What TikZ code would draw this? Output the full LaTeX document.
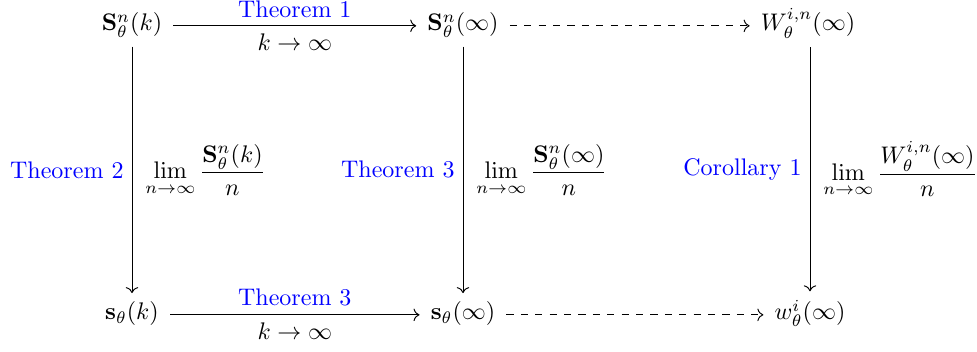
\documentclass[tikz,border=0pt]{standalone}
\usepackage{amsmath,amssymb}
\usetikzlibrary{arrows.meta}
\tikzset{
  obj/.style={anchor=base,inner ysep=3.5pt,inner xsep=4.5pt},
  arr/.style={-{Computer Modern Rightarrow},line width=0.4pt},
  dasharr/.style={arr,dashed},
  thm/.style={text=blue},
  rlab/.style={right,xshift=2pt},
}
\begin{document}
\begin{tikzpicture}[x=0.4167pt,y=-0.4167pt]
\useasboundingbox (0,0) rectangle (977,352);
\node[obj] (a) at (132,31) {$\mathbf{S}^n_\theta(k)$};
\node[obj] (b) at (463,31) {$\mathbf{S}^n_\theta(\infty)$};
\node[obj] (c) at (808,31) {$W^{i,n}_\theta(\infty)$};
\node[obj] (d) at (132,320) {$\mathbf{s}_\theta(k)$};
\node[obj] (e) at (463,320) {$\mathbf{s}_\theta(\infty)$};
\node[obj] (f) at (810,320) {$w^{i}_\theta(\infty)$};
\draw[arr] (a.mid east) -- node[above,thm]{Theorem 1} node[below]{$k\to\infty$} (b.mid west);
\draw[dasharr] (b.mid east) -- (c.mid west);
\draw[arr] (d.mid east) -- node[above,thm]{Theorem 3} node[below]{$k\to\infty$} (e.mid west);
\draw[dasharr] (e.mid east) -- (f.mid west);
\draw[arr] (a) -- node[left,thm]{Theorem 2} node[rlab]{$\displaystyle\lim_{n\to\infty}\frac{\mathbf{S}^n_\theta(k)}{n}$} (d);
\draw[arr] (b) -- node[left,thm]{Theorem 3} node[rlab]{$\displaystyle\lim_{n\to\infty}\frac{\mathbf{S}^n_\theta(\infty)}{n}$} (e);
\draw[arr] (c.south -| f) -- node[left,thm]{Corollary 1} node[rlab]{$\displaystyle\lim_{n\to\infty}\frac{W^{i,n}_\theta(\infty)}{n}$} (f);
\end{tikzpicture}
\end{document}
